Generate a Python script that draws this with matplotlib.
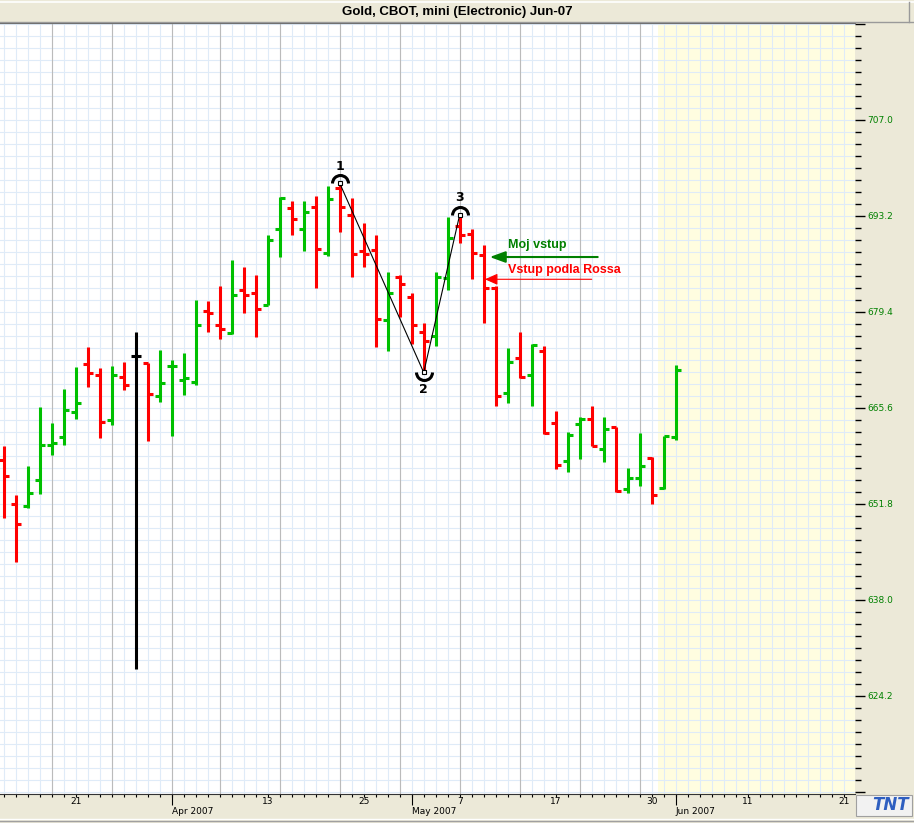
import numpy as np
import pandas as pd
import matplotlib
matplotlib.use('Agg')
import matplotlib.pyplot as plt
from matplotlib.path import Path
from matplotlib.patches import Rectangle
from matplotlib.lines import Line2D
import matplotlib.transforms as mtransforms

# trading calendar (CBOT closed Good Friday and Memorial Day)
dias = pd.bdate_range('2007-03-13', '2007-06-29')
dias = dias.drop(pd.to_datetime(['2007-04-06', '2007-05-28']))

# OHLC por dia, desde 13 Mar hasta 1 Jun 2007
opens = [658.13, 651.80, 651.51, 655.21, 660.24, 661.39, 664.98, 671.88, 670.30, 663.88,
         670.01, 673.07, 672.03, 667.28, 671.59, 669.63, 669.34, 679.50, 677.53, 676.38,
         682.56, 682.09, 680.45, 691.29, 694.31, 691.29, 694.45, 687.92, 697.18, 693.39,
         688.21, 688.31, 678.25, 684.47, 681.60, 676.48, 675.95, 684.33, 691.76, 690.57,
         687.59, 682.81, 667.80, 672.74, 670.34, 673.84, 663.40, 657.98, 663.34, 663.98,
         659.71, 662.87, 654.00, 655.58, 658.40, 654.06, 661.39]
highs = [660.14, 653.09, 657.26, 665.74, 663.44, 668.33, 671.49, 674.37, 671.31, 671.64,
         672.21, 676.52, 672.03, 673.89, 672.46, 673.51, 681.13, 680.98, 683.14, 686.88,
         685.83, 684.68, 690.43, 695.89, 695.40, 695.40, 696.08, 697.50, 697.90, 695.79,
         692.15, 690.43, 685.15, 684.68, 682.17, 677.78, 685.11, 693.10, 693.40, 691.29,
         689.03, 683.14, 674.18, 676.52, 674.76, 674.51, 665.21, 662.11, 664.26, 665.89,
         664.26, 662.91, 656.93, 661.96, 658.51, 661.62, 671.78]
lows = [649.83, 643.51, 651.18, 653.19, 658.89, 660.32, 663.98, 668.66, 661.33, 663.20,
        668.23, 628.08, 660.90, 666.51, 661.62, 667.51, 668.86, 676.57, 675.56, 676.24,
        679.21, 675.76, 680.45, 687.35, 690.43, 688.13, 682.81, 687.45, 690.86, 684.47,
        685.91, 674.33, 673.84, 678.72, 674.80, 670.70, 674.51, 682.56, 689.25, 684.10,
        677.78, 665.93, 666.28, 669.87, 665.93, 661.82, 656.83, 656.36, 658.23, 660.14,
        657.79, 653.48, 653.34, 654.43, 651.80, 653.96, 661.00]
closes = [655.82, 648.88, 653.38, 660.24, 660.53, 665.27, 666.28, 670.59, 663.54, 670.30,
          668.86, 673.07, 667.57, 669.15, 671.65, 669.91, 677.53, 679.21, 676.91, 681.80,
          681.80, 679.79, 689.71, 695.79, 692.73, 693.78, 688.41, 695.60, 694.45, 687.74,
          687.74, 678.35, 682.09, 683.43, 677.49, 675.23, 684.39, 690.08, 690.51, 687.84,
          682.78, 667.33, 672.26, 670.01, 674.61, 661.96, 657.41, 661.68, 663.98, 660.18,
          662.62, 653.63, 655.58, 657.31, 653.09, 661.53, 671.06]

# etiquetas del eje x
dias_lbl = ['2007-03-21', '2007-04-13', '2007-04-25', '2007-05-07', '2007-05-17',
            '2007-05-30', '2007-06-11', '2007-06-21']
meses_lbl = ['Apr 2007', 'May 2007', 'Jun 2007']

# pivotes 1-2-3 y entradas
piv_idx = [28, 35, 38]
entrada_idx = 40
moj_vstup = 687.3
ross_vstup = 684.1

W, H = 914, 823
beige = '#ece9d8'
gridc = '#dfebf8'
fig = plt.figure(figsize=(W / 100, H / 100), dpi=100, facecolor=beige)
ax = fig.add_axes([0, 1 - 794 / H, 855 / W, (794 - 23) / H])
ax.set_facecolor('white')

n = len(opens)
x = np.arange(n)
o = np.array(opens); c = np.array(closes)
cols = ['#00c000' if cc > oo else '#ff0000' if cc < oo else 'black' for oo, cc in zip(o, c)]

ax.vlines(x, lows, highs, colors=cols, lw=2.2, zorder=3, capstyle='butt')
ax.hlines(opens, x - 0.4, x, colors=cols, lw=2.2, zorder=3, capstyle='butt')
ax.hlines(closes, x, x + 0.4, colors=cols, lw=2.2, zorder=3, capstyle='butt')

# ejes
xall = np.arange(len(dias))
mes_idx = [i for i in range(1, len(dias)) if dias[i].month != dias[i - 1].month]
lun_idx = [i for i in range(1, n) if dias[i].weekday() < dias[i - 1].weekday()]

ax.set_xticks(mes_idx)
ax.set_xticks(xall, minor=True)
ax.xaxis.remove_overlapping_locs = False
ax.tick_params(axis='x', which='minor', length=2.5, width=0.8, direction='out')
ax.tick_params(axis='x', which='major', length=8, width=0.8, direction='out')
ax.tick_params(axis='x', labelbottom=False)

ymaj = np.round(np.arange(610.4, 721, 13.8), 1)
ymin = np.arange(610.4, 721, 1.725)
ax.set_yticks(ymaj)
ax.set_yticks(ymin, minor=True)
ax.set_yticklabels(['' if (v < 620 or v > 715) else f'{v:.1f}' for v in ymaj])
ax.yaxis.tick_right()
ax.tick_params(axis='y', which='major', length=7.2, width=1, labelsize=6.5,
               labelcolor='#008000', pad=1.5)
ax.tick_params(axis='y', which='minor', length=4.3, width=1)

ax.grid(which='minor', axis='x', color=gridc, lw=0.8)
ax.grid(which='both', axis='y', color=gridc, lw=0.8)
ax.set_axisbelow(True)

for i in lun_idx:
    ax.axvline(i, color='#bbbbbb', lw=0.8, zorder=0.8)
ax.axvspan(n - 2.5, 80, color='#fffde0', zorder=0.3, lw=0)

ax.set_xlim(-0.31, 70.94)
ax.set_ylim(610.11, 720.94)

for s in ['left', 'right']:
    ax.spines[s].set_visible(False)
ax.spines['top'].set_color('#666666')
ax.spines['bottom'].set_color('#333333')

# etiquetas de fechas
tr = mtransforms.blended_transform_factory(ax.transData, fig.transFigure)
for d in dias_lbl:
    i = dias.get_loc(pd.Timestamp(d))
    ax.text(i, 1 - 801.5 / H, str(pd.Timestamp(d).day), transform=tr, ha='center',
            va='center', fontsize=6.5, clip_on=False)
for i, m in zip(mes_idx, meses_lbl):
    ax.text(i, 1 - 811 / H, m, transform=tr, ha='left', va='center', fontsize=6.5,
            clip_on=False)

# pivotes 1-2-3
px = piv_idx
py = [highs[px[0]], lows[px[1]], highs[px[2]]]
ax.plot(px, py, color='black', lw=0.8, zorder=4)
arc_up = Path.arc(0, 180)
arc_dn = Path.arc(180, 360)
for k, (xi, yi) in enumerate(zip(px, py)):
    arc = arc_dn if k == 1 else arc_up
    ax.plot(xi, yi, marker=arc, ms=11.5, mfc='none', mec='black', mew=2.2, zorder=5)
    ax.plot(xi, yi, marker='s', ms=3.2, mfc='white', mec='black', mew=0.8, zorder=6)
    off = -12.5 if k == 1 else 12
    ax.annotate(str(k + 1), (xi, yi), xytext=(0, off), textcoords='offset points',
                ha='center', va='center', fontsize=9, fontweight='bold')

# flechas de entrada
ax.annotate('', xy=(entrada_idx + 0.5, moj_vstup), xytext=(entrada_idx + 9.5, moj_vstup),
            arrowprops=dict(arrowstyle='-|>,head_length=0.55,head_width=0.2', color='#008000',
                            lw=1.5, shrinkA=0, shrinkB=0, mutation_scale=17), zorder=6)
ax.annotate('', xy=(entrada_idx + 0.1, ross_vstup), xytext=(entrada_idx + 9.0, ross_vstup),
            arrowprops=dict(arrowstyle='-|>,head_length=0.45,head_width=0.2', color='#ff0000',
                            lw=0.8, shrinkA=0, shrinkB=0, mutation_scale=17), zorder=6)
ax.text(entrada_idx + 2.0, moj_vstup + 1.7, 'Moj vstup', color='#008000', fontsize=9,
        fontweight='bold', family='Liberation Sans', ha='left', va='center')
ax.text(entrada_idx + 2.0, ross_vstup + 1.35, 'Vstup podla Rossa', color='#ff0000', fontsize=9,
        fontweight='bold', family='Liberation Sans', ha='left', va='center')

# barra de titulo
fig.add_artist(Line2D([0, 1], [1 - 1.5 / H] * 2, color='white', lw=1.2, transform=fig.transFigure))
fig.add_artist(Line2D([0, 1], [1 - 21.5 / H] * 2, color='#9a9a9a', lw=1, transform=fig.transFigure))
fig.add_artist(Line2D([909 / W] * 2, [1 - 21.5 / H, 1 - 1.5 / H], color='#9a9a9a', lw=1,
                      transform=fig.transFigure))
fig.text(457 / W, 1 - 11.5 / H, 'Gold, CBOT, mini (Electronic) Jun-07', ha='center', va='center',
         fontsize=9.5, fontweight='bold', family='Liberation Sans')

# pie
fig.add_artist(Line2D([0, 1], [1 - 818.5 / H] * 2, color='white', lw=1, transform=fig.transFigure))
fig.add_artist(Line2D([0, 1], [1 - 820.5 / H] * 2, color='#a0a0a0', lw=1, transform=fig.transFigure))
fig.add_artist(Rectangle((856 / W, 1 - 816 / H), 56 / W, 21 / H, transform=fig.transFigure,
                         facecolor='#f2f2f2', edgecolor='#a0a0a0', lw=0.8))
fig.text(891 / W, 1 - 805.5 / H, 'TNT', ha='center', va='center', fontsize=12,
         fontweight='bold', style='italic', color='#2f5fc0')

fig.savefig('out.png', dpi=100, facecolor=beige)
